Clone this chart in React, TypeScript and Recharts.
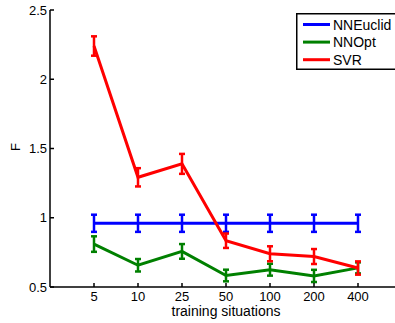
import React from 'react';
import { LineChart, Line, XAxis, YAxis, ErrorBar } from 'recharts';

const categories = ['5', '10', '25', '50', '100', '200', '400'];
const nnEuclid = [0.96, 0.96, 0.96, 0.96, 0.96, 0.96, 0.96];
const nnEuclidErr = [0.062, 0.062, 0.062, 0.062, 0.062, 0.062, 0.062];
const nnOpt = [0.81, 0.657, 0.757, 0.583, 0.625, 0.58, 0.638];
const nnOptErr = [0.056, 0.045, 0.053, 0.042, 0.043, 0.044, 0.04];
const svr = [2.24, 1.292, 1.389, 0.834, 0.74, 0.72, 0.637];
const svrErr = [0.07, 0.066, 0.072, 0.052, 0.054, 0.054, 0.048];
const yTicks = [0.5, 1, 1.5, 2, 2.5];

const seriesNames = ['NNEuclid', 'NNOpt', 'SVR'];
const seriesColors = ['#0000ff', '#008000', '#ff0000'];

const data = categories.map((c, i) => ({
  idx: i + 1,
  cat: c,
  nnEuclid: nnEuclid[i],
  nnEuclidErr: nnEuclidErr[i],
  nnOpt: nnOpt[i],
  nnOptErr: nnOptErr[i],
  svr: svr[i],
  svrErr: svrErr[i],
}));

const FONT = '"Liberation Sans", Arial, Helvetica, sans-serif';

const LegendBox = () => (
  <svg width={110} height={58} style={{ display: 'block' }}>
    <rect x={0.75} y={0.75} width={108} height={55.5} fill="#fff" stroke="#000" strokeWidth={1.5} />
    {seriesNames.map((n, i) => {
      const cy = 11.5 + i * 17.6;
      return (
        <g key={n}>
          <line x1={7} x2={34} y1={cy} y2={cy} stroke={seriesColors[i]} strokeWidth={3} />
          <text x={37} y={cy + 5} fontSize={14} fontFamily={FONT} fill="#000">
            {n}
          </text>
        </g>
      );
    })}
  </svg>
);

const YLabel = () => (
  <text
    x={15}
    y={147}
    transform="rotate(-90 15 147)"
    textAnchor="middle"
    dominantBaseline="central"
    fontSize={13}
    fontFamily={FONT}
    fill="#000"
  >
    F
  </text>
);

export default function App() {
  const tickStyle = { fontSize: 13, fontFamily: FONT, fill: '#000' };
  return (
    <div
      style={{
        position: 'absolute',
        left: 0,
        top: 0,
        width: 395,
        height: 323,
        overflow: 'hidden',
        background: '#fff',
      }}
    >
      <LineChart
        width={420}
        height={323}
        data={data}
        margin={{ top: 10, right: 18, bottom: 0, left: 0 }}
      >
        <XAxis
          dataKey="idx"
          type="number"
          domain={[0, 8]}
          ticks={[1, 2, 3, 4, 5, 6, 7]}
          tickFormatter={(v: number) => categories[v - 1]}
          height={36}
          tickSize={-4}
          tickMargin={9}
          stroke="#000"
          strokeWidth={1.5}
          tick={tickStyle}
          label={{
            value: 'training situations',
            position: 'insideBottom',
            offset: 7,
            fontSize: 14,
            fontFamily: FONT,
            fill: '#000',
          }}
        />
        <XAxis
          xAxisId="top"
          dataKey="idx"
          type="number"
          orientation="top"
          domain={[0, 8]}
          ticks={[1, 2, 3, 4, 5, 6, 7]}
          tickFormatter={() => ''}
          height={0}
          tickSize={-4}
          stroke="#000"
          strokeWidth={1.5}
        />
        <YAxis
          type="number"
          domain={[0.5, 2.5]}
          ticks={yTicks}
          width={50}
          tickSize={-4}
          tickMargin={7}
          stroke="#000"
          strokeWidth={1.5}
          tick={tickStyle}
          tickFormatter={(v: number) => String(v)}
          label={{ content: () => <YLabel /> }}
        />
        <Line
          dataKey="nnEuclid"
          name="NNEuclid"
          stroke={seriesColors[0]}
          strokeWidth={3}
          dot={false}
          isAnimationActive={false}
        >
          <ErrorBar dataKey="nnEuclidErr" width={3} strokeWidth={2.5} stroke={seriesColors[0]} direction="y" isAnimationActive={false} />
        </Line>
        <Line
          dataKey="nnOpt"
          name="NNOpt"
          stroke={seriesColors[1]}
          strokeWidth={3}
          dot={false}
          isAnimationActive={false}
        >
          <ErrorBar dataKey="nnOptErr" width={3} strokeWidth={2.5} stroke={seriesColors[1]} direction="y" isAnimationActive={false} />
        </Line>
        <Line
          dataKey="svr"
          name="SVR"
          stroke={seriesColors[2]}
          strokeWidth={3}
          dot={false}
          isAnimationActive={false}
        >
          <ErrorBar dataKey="svrErr" width={3} strokeWidth={2.5} stroke={seriesColors[2]} direction="y" isAnimationActive={false} />
        </Line>
      </LineChart>
      <div style={{ position: 'absolute', left: 296, top: 13 }}>
        <LegendBox />
      </div>
    </div>
  );
}
